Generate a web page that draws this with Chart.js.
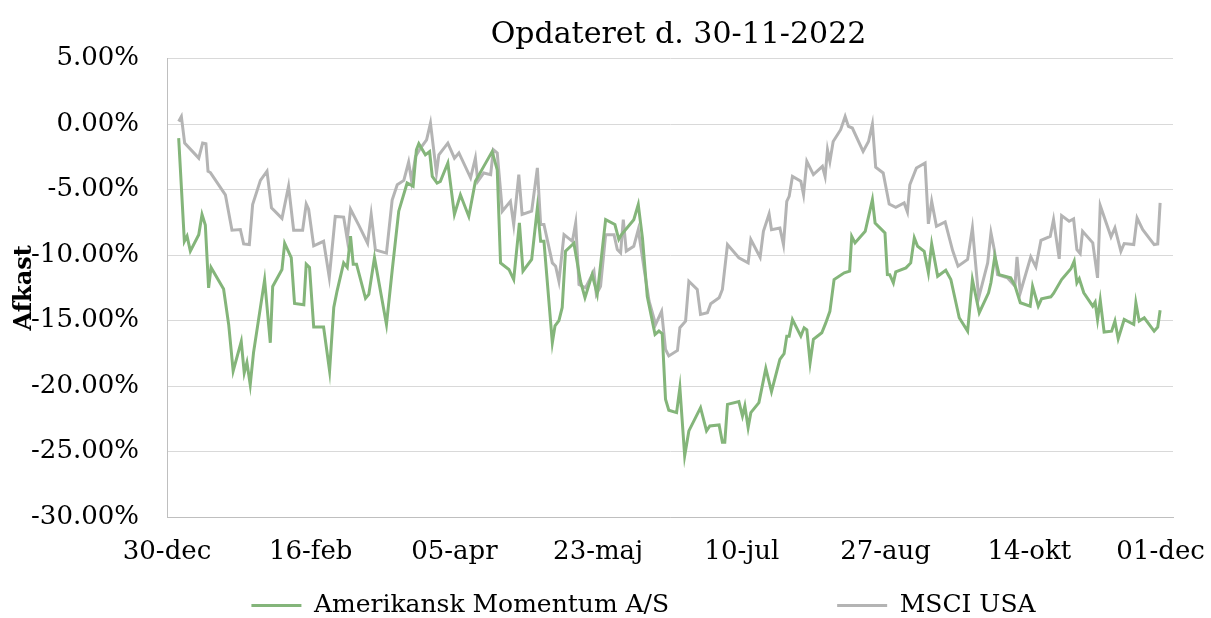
<!DOCTYPE html>
<html>
<head>
<meta charset="utf-8">
<script src="https://cdn.jsdelivr.net/npm/chart.js@4.4.0/dist/chart.umd.min.js"></script>
<style>
  html, body { margin: 0; padding: 0; background: #fff; }
  #wrap { width: 1211px; height: 618px; }
</style>
</head>
<body>
<div id="wrap"><canvas id="chart" width="1211" height="618"></canvas></div>
<script>
// x = days since 30-dec-2021, y = return in %
const xLabels = ['30-dec', '16-feb', '05-apr', '23-maj', '10-jul', '27-aug', '14-okt', '01-dec'];

const momDays = [3.9, 5.8, 6.7, 7.8, 10.6, 11.7, 12.8, 13.9, 14.7, 18.9, 20.6, 22.1, 24.8, 25.8, 26.7, 27.8, 28.9, 32.6, 34.5, 35.3,
  38.4, 39.3, 41.5, 42.6, 45.7, 46.5, 47.6, 49.0, 52.3, 54.3, 55.7, 56.8, 59.0, 60.2, 61.3, 62.2, 63.3, 66.3, 67.4, 69.3,
  73.3, 75.2, 77.4, 80.2, 82.2, 83.3, 84.1, 86.3, 87.7, 88.6, 90.2, 91.3, 93.8, 96.0, 98.0, 100.8, 103.0, 105.8, 108.6, 110.3,
  111.4, 114.2, 115.8, 117.7, 118.9, 121.8, 123.7, 124.8, 125.9, 128.7, 129.6, 130.9, 132.0, 133.1, 135.9, 138.1, 139.6, 142.0, 143.7, 146.5,
  149.6, 150.9, 151.8, 155.9, 157.4, 158.8, 160.4, 163.0, 164.3, 165.4, 166.5, 167.6, 170.2, 171.3, 172.9, 174.3, 178.2, 180.2, 181.3, 184.4,
  185.5, 186.3, 187.2, 191.0, 192.2, 193.0, 194.1, 195.0, 197.7, 200.0, 201.9, 204.7, 206.1, 207.0, 207.8, 208.9, 211.7, 212.8, 213.7, 214.8,
  215.9, 218.7, 220.0, 221.4, 222.8, 226.2, 228.0, 228.7, 229.8, 233.2, 235.6, 236.5, 239.8, 240.6, 241.4, 242.6, 243.4, 246.8, 248.4, 249.6,
  250.7, 252.9, 254.3, 255.4, 257.4, 260.1, 261.8, 264.6, 267.4, 269.0, 271.3, 274.4, 275.2, 276.5, 277.9, 281.8, 283.2, 285.0, 288.3, 289.1,
  291.0, 292.1, 295.2, 296.1, 298.8, 301.9, 303.0, 303.9, 304.7, 306.2, 309.2, 310.0, 310.8, 311.7, 313.0, 315.5, 316.6, 317.7, 319.7, 322.9,
  323.6, 324.7, 326.4, 329.7, 330.9, 331.7];
const momValues = [-1.07, -8.95, -8.55, -9.7, -8.45, -6.9, -7.7, -12.5, -10.95, -12.6, -15.3, -18.85, -16.6, -19.0, -18.2, -19.9, -17.45, -11.9, -16.7, -12.4,
  -11.1, -9.1, -10.2, -13.7, -13.8, -10.7, -10.95, -15.5, -15.5, -18.85, -14.0, -12.75, -10.6, -10.95, -8.55, -10.7, -10.7, -13.3, -13.0, -10.2,
  -15.3, -11.2, -6.65, -4.5, -4.75, -1.96, -1.5, -2.35, -2.1, -4.0, -4.5, -4.37, -2.97, -6.9, -5.4, -7.05, -4.37, -3.23, -2.1, -3.5,
  -10.6, -11.1, -11.87, -7.55, -11.23, -10.34, -6.4, -8.95, -8.95, -16.7, -15.4, -15.0, -14.0, -9.7, -9.1, -12.0, -13.26, -11.49, -13.0, -7.3,
  -7.67, -8.8, -8.44, -7.3, -6.15, -8.7, -13.14, -16.06, -15.8, -16.0, -21.0, -21.85, -22.03, -20.12, -25.33, -23.43, -21.65, -23.43, -23.05, -22.97,
  -24.3, -24.3, -21.4, -21.19, -22.29, -21.52, -23.17, -22.03, -21.27, -18.65, -20.43, -17.97, -17.53, -16.19, -16.19, -14.92, -16.19, -15.55, -15.7, -18.22,
  -16.44, -15.93, -15.2, -14.3, -11.87, -11.36, -11.23, -8.57, -9.07, -8.18, -5.77, -7.55, -8.31, -11.49, -11.5, -12.12, -11.28, -10.98, -10.6, -8.69,
  -9.33, -9.71, -11.36, -9.15, -11.62, -11.16, -11.87, -14.79, -15.81, -11.87, -14.4, -12.88, -12.1, -10.09, -11.49, -11.74, -12.33, -13.64, -13.9, -12.38,
  -13.9, -13.34, -13.19, -12.93, -11.87, -11.05, -10.47, -12.12, -11.81, -12.88, -13.9, -13.6, -14.92, -13.44, -15.88, -15.81, -15.04, -16.39, -14.92, -15.3,
  -13.64, -15.04, -14.79, -15.81, -15.5, -14.21];

const msciDays = [3.9, 4.8, 5.9, 10.6, 11.9, 13.0, 13.7, 14.5, 19.5, 21.7, 24.5, 25.6, 27.5, 28.6, 31.2, 33.4, 34.9, 38.4, 40.6, 42.3,
  45.3, 46.5, 47.3, 49.0, 52.3, 54.2, 56.2, 59.0, 60.2, 61.3, 64.0, 67.0, 68.2, 69.6, 73.3, 75.2, 76.9, 79.1, 80.7, 81.7,
  83.0, 84.7, 86.7, 88.0, 90.0, 90.8, 93.8, 96.0, 97.5, 101.4, 103.0, 103.8, 105.8, 108.1, 109.0, 110.3, 112.0, 114.7, 115.8, 117.5,
  118.6, 121.8, 123.7, 124.8, 125.9, 128.7, 129.8, 130.9, 132.6, 135.4, 136.5, 137.6, 139.8, 142.6, 143.4, 144.8, 146.5, 149.3, 150.4, 151.5,
  152.4, 153.4, 155.9, 157.4, 159.3, 161.0, 163.2, 165.2, 166.5, 167.6, 170.5, 171.3, 173.2, 174.3, 177.1, 178.2, 180.5, 181.6, 184.4, 185.5,
  187.2, 191.0, 194.1, 195.0, 198.1, 199.2, 201.1, 201.9, 204.7, 205.9, 207.0, 207.8, 208.9, 211.7, 212.6, 213.7, 215.9, 218.9, 219.8, 220.6,
  221.4, 222.5, 225.0, 226.5, 227.6, 228.9, 232.5, 234.3, 235.6, 236.7, 239.2, 241.2, 243.4, 246.2, 247.3, 248.1, 250.3, 253.2, 254.3, 255.4,
  257.0, 259.9, 262.4, 264.2, 267.4, 269.0, 271.1, 274.1, 275.2, 276.3, 277.4, 280.7, 283.2, 283.9, 285.0, 288.5, 290.2, 291.9, 295.0, 296.1,
  298.0, 298.8, 301.3, 302.8, 303.9, 305.0, 305.8, 309.2, 310.8, 311.7, 315.3, 316.6, 318.6, 319.7, 322.9, 324.0, 325.9, 329.7, 330.9, 331.7];
const msciValues = [0.2, 0.58, -1.45, -2.6, -1.45, -1.5, -3.6, -3.7, -5.4, -8.1, -8.05, -9.15, -9.2, -6.15, -4.3, -3.6, -6.4, -7.2, -4.75, -8.1,
  -8.1, -6.1, -6.5, -9.3, -8.95, -11.7, -7.05, -7.1, -8.8, -6.5, -7.7, -9.1, -6.9, -9.6, -9.85, -5.8, -4.63, -4.3, -2.9, -4.37,
  -2.47, -1.83, -1.2, 0.08, -3.73, -2.34, -1.45, -2.6, -2.2, -4.1, -2.6, -4.37, -3.73, -3.86, -1.96, -2.2, -6.65, -5.9, -7.67, -3.86,
  -6.9, -6.65, -3.35, -7.67, -7.67, -10.6, -10.85, -12.0, -8.44, -8.95, -7.55, -12.25, -12.5, -11.23, -13.0, -12.38, -8.44, -8.44, -9.58, -9.83,
  -7.3, -9.7, -9.33, -8.06, -10.97, -13.5, -15.3, -14.3, -17.2, -17.7, -17.28, -15.55, -15.05, -12.0, -12.63, -14.53, -14.4, -13.72, -13.26, -12.63,
  -9.2, -10.21, -10.6, -8.82, -10.17, -8.18, -6.86, -8.06, -7.93, -9.2, -5.9, -5.52, -4.0, -4.37, -5.39, -2.85, -3.86, -3.23, -4.0, -1.96,
  -2.85, -1.33, -0.43, 0.58, -0.18, -0.3, -2.09, -1.33, 0.0, -3.3, -3.73, -6.1, -6.36, -6.02, -6.71, -4.63, -3.35, -2.97, -7.62, -5.9,
  -7.8, -7.47, -9.66, -10.85, -10.34, -7.93, -13.26, -10.6, -8.31, -9.58, -11.49, -11.74, -12.38, -10.14, -12.88, -10.14, -10.9, -8.87, -8.57, -7.29,
  -10.29, -6.99, -7.42, -7.24, -9.58, -9.89, -8.18, -9.07, -11.74, -6.23, -8.61, -7.93, -9.71, -9.12, -9.2, -7.17, -8.06, -9.2, -9.15, -6.02];

const FONT = "'DejaVu Serif', serif";
const GREEN = '#84b57a';
const GRAY = '#b4b4b4';
const LEGEND_GAP = 168;

function toPoints(days, values) {
  return days.map((d, i) => ({ x: d, y: values[i] }));
}

// y-axis title sits over the tick labels like in the original, so draw it by hand.
// Title is centred over the plot, and the legend row is nudged into place
// (its padding is also the gap between the two items).
const tweaks = {
  id: 'tweaks',
  afterLayout(chart) {
    const lg = chart.legend;
    lg.top = 593 - LEGEND_GAP;
    lg.bottom = chart.height;
    lg.left += 57;
    lg.right += 57;
    const tb = chart.titleBlock;
    tb.left += 92;
    tb.right += 92;
  },
  afterDraw(chart) {
    const ctx = chart.ctx;
    const area = chart.chartArea;
    ctx.save();
    ctx.translate(25, (area.top + area.bottom) / 2);
    ctx.rotate(-Math.PI / 2);
    ctx.font = "bold 24px " + FONT;
    ctx.fillStyle = '#000';
    ctx.textAlign = 'center';
    ctx.textBaseline = 'middle';
    ctx.fillText('Afkast', 0, 0);
    ctx.restore();
  }
};

new Chart(document.getElementById('chart'), {
  type: 'line',
  data: {
    datasets: [
      {
        label: 'Amerikansk Momentum A/S',
        data: toPoints(momDays, momValues),
        borderColor: GREEN,
        backgroundColor: GREEN,
        borderWidth: 3,
        pointRadius: 0,
        tension: 0
      },
      {
        label: 'MSCI USA',
        data: toPoints(msciDays, msciValues),
        borderColor: GRAY,
        backgroundColor: GRAY,
        borderWidth: 3,
        pointRadius: 0,
        tension: 0
      }
    ]
  },
  options: {
    responsive: false,
    animation: false,
    layout: { padding: { left: 0, right: 38, top: 0, bottom: 10 } },
    scales: {
      x: {
        type: 'linear',
        min: 0,
        max: 336,
        afterFit: (scale) => { scale.paddingLeft = 0; scale.paddingRight = 0; scale.height = 51; },
        ticks: {
          stepSize: 48,
          padding: 20,
          color: '#000',
          font: { family: FONT, size: 26 },
          maxRotation: 0,
          callback: (v) => {
            const i = Math.round(v / 48);
            // last label is pulled inwards a little, like the original
            return i === xLabels.length - 1 ? xLabels[i] + '\u00a0\u00a0\u00a0' : xLabels[i];
          }
        },
        grid: { display: false, drawTicks: false },
        border: { color: '#bfbfbf', width: 1 }
      },
      y: {
        min: -30,
        max: 5,
        afterFit: (scale) => { scale.width = 167; },
        ticks: {
          stepSize: 5,
          padding: 28,
          color: '#000',
          font: { family: FONT, size: 26 },
          callback: (v) => v.toFixed(2) + '%'
        },
        grid: { color: '#d9d9d9', drawTicks: false },
        border: { color: '#bfbfbf', width: 1 }
      }
    },
    plugins: {
      title: {
        display: true,
        text: 'Opdateret d. 30-11-2022',
        color: '#000',
        font: { family: FONT, size: 30, weight: 'normal' },
        padding: { top: 17, bottom: 5.6 }
      },
      legend: {
        position: 'bottom',
        maxHeight: 40,
        labels: {
          usePointStyle: true,
          pointStyle: 'line',
          pointStyleWidth: 50,
          color: '#000',
          font: { family: FONT, size: 25 },
          padding: LEGEND_GAP
        }
      },
      tooltip: { enabled: false }
    }
  },
  plugins: [tweaks]
});
</script>
</body>
</html>
